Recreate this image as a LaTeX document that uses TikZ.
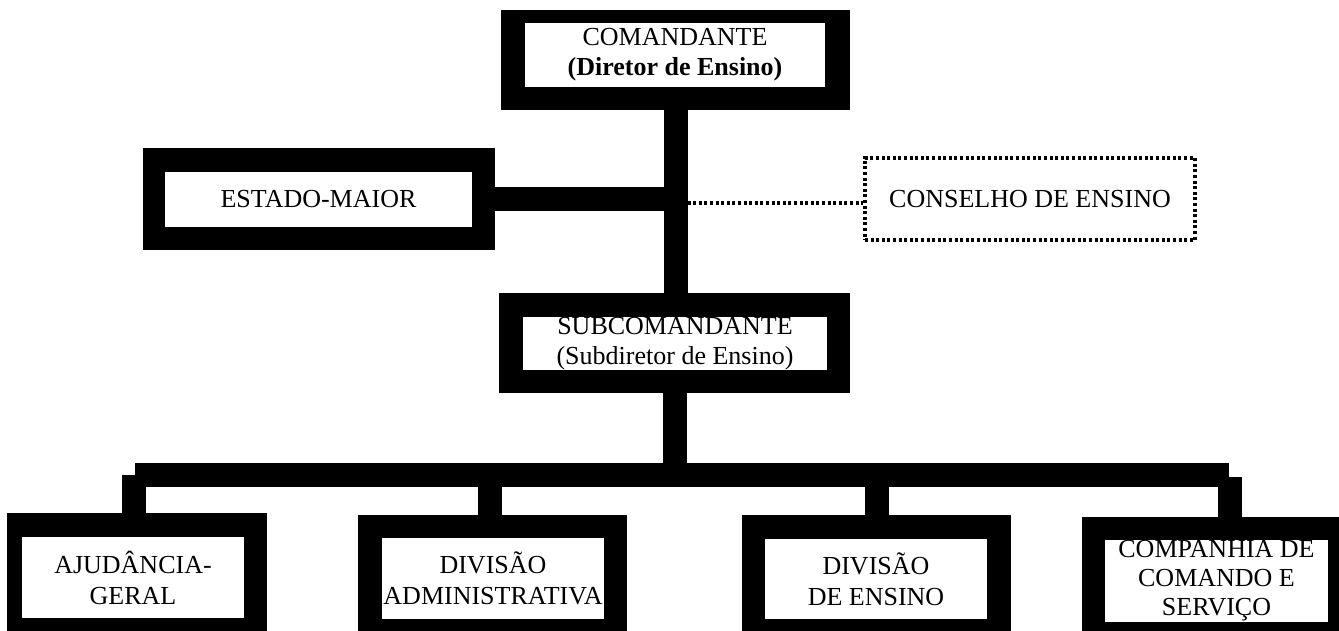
\documentclass[tikz,border=0pt]{standalone}
\usepackage{fontspec}
\setmainfont{Liberation Serif}
\usetikzlibrary{positioning, fit}

\begin{document}
\begin{tikzpicture}[x=1pt, y=-1pt,
	frame/.style={fill=black, inner sep=0pt, outer sep=0pt},
	unit/.style={fill=white, inner sep=0pt, outer sep=0pt},
	unittext/.style={align=center, inner sep=0pt, font=\fontsize{26}{30}\selectfont},
	council/.style={draw, line width=3.2pt, dash pattern=on 3pt off 2.6pt, inner sep=0pt},
	link/.style={draw, line width=24pt},
	dotlink/.style={draw, line width=3.2pt, dash pattern=on 3pt off 2.6pt}]
	\clip (0,0) rectangle (1339,630);
	% top of the chart
	\node[frame, fit={(501,10) (850,110)}] (cmdF) {};
	\node[unit, fit={(525,23) (825,87)}, label={[unittext]center:COMANDANTE\\\textbf{(Diretor de Ensino)}}] (cmd) {};
	\node[frame, fit={(143,148) (495,250)}] (emF) {};
	\node[unit, fit={(165,172) (472,227)}, label={[unittext]center:ESTADO-MAIOR}] (em) {};
	\node[council, fit={(865,158) (1195,240)}, label={[unittext]center:CONSELHO DE ENSINO}] (cons) {};
	\node[frame, fit={(499,293) (850,393)}] (subF) {};
	\node[unit, fit={(523,317) (827,370)}, label={[unittext]center:SUBCOMANDANTE\\(Subdiretor de Ensino)}] (sub) {};
	% divisions
	\node[frame, fit={(7,513) (267,641)}] (ajF) {};
	\node[unit, fit={(22,537) (244,618)}, label={[unittext, font=\fontsize{26}{31}\selectfont]center:AJUDÂNCIA-\\GERAL}] (aj) {};
	\node[frame, fit={(358,515) (627,641)}] (admF) {};
	\node[unit, fit={(382,538) (604,619)}, label={[unittext, font=\fontsize{26}{31}\selectfont]center:DIVISÃO\\ADMINISTRATIVA}] (adm) {};
	\node[frame, fit={(742,515) (1011,641)}] (ensF) {};
	\node[unit, fit={(765,539) (987,619)}, label={[unittext, font=\fontsize{26}{31}\selectfont]center:DIVISÃO\\DE ENSINO}] (ens) {};
	\node[frame, fit={(1082,517) (1351,645)}] (ciaF) {};
	\node[unit, fit={(1105,540) (1328,622)}, label={[unittext, font=\fontsize{26}{29}\selectfont]center:COMPANHIA DE\\COMANDO E\\SERVIÇO}] (cia) {};
	\coordinate (busL) at (135,475);
	\coordinate (busR) at (1229,475);
	% connectors
	\path[link] (cmdF.south) -- (cmdF.south |- subF.north);
	\path[link] (emF.east) -- (emF.east -| cmdF.south);
	\path[dotlink] ([xshift=12pt, yshift=-4pt]cmdF.south |- cons.west) -- ([yshift=-4pt]cons.west);
	\path[link] (subF.south) -- (subF.south |- busL);
	\path[link] (busL) -- (busR);
	\path[link] ([xshift=-3.5pt]ajF.north) -- ([xshift=-3.5pt]ajF.north |- busL);
	\path[link] ([xshift=-2.5pt]admF.north) -- ([xshift=-2.5pt]admF.north |- busL);
	\path[link] (ensF.north) -- (ensF.north |- busL);
	\path[link] ([xshift=13.5pt]ciaF.north) -- ([xshift=13.5pt, yshift=-2pt]ciaF.north |- busR);
\end{tikzpicture}
\end{document}
